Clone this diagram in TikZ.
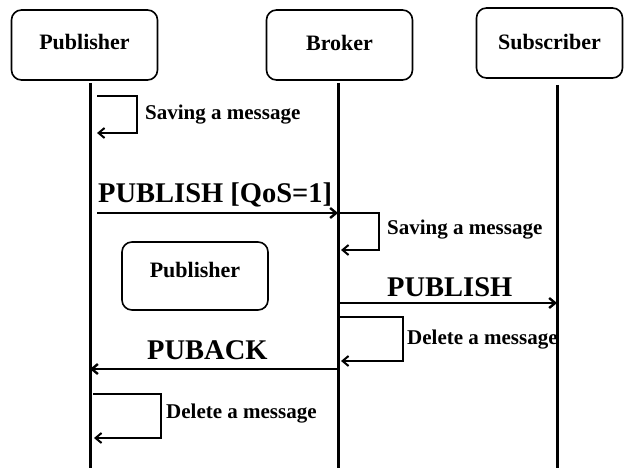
\documentclass[tikz,border=0pt]{standalone}
\usepackage{fontspec}
\setmainfont{Liberation Serif}
\usetikzlibrary{arrows.meta,positioning}

\begin{document}
\begin{tikzpicture}[
x=1pt, y=-1pt,
actor/.style={
	draw, line width=1.6pt,
	rounded corners=10pt,
	minimum width=146pt, minimum height=70pt,
	font=\fontsize{22}{24}\selectfont\bfseries
},
msg/.style={font=\fontsize{28.5}{30}\selectfont\bfseries, inner sep=0pt, anchor=base west},
note/.style={font=\fontsize{21}{23}\selectfont\bfseries, inner sep=0pt, anchor=west},
life/.style={line width=3pt},
call/.style={line width=2.4pt, -{Straight Barb[length=6pt,width=10pt]}},
selfcall/.style={line width=2pt, -{Straight Barb[length=6pt,width=10pt]}}
]
\useasboundingbox (0,0) rectangle (624,468);

\node[actor] (pub) at (84.5,45) {\raisebox{3pt}[\height][\depth]{Publisher}};
\node[actor] (bro) at (339.5,45) {\raisebox{2pt}[\height][\depth]{Broker}};
\node[actor] (sub) at (549.5,43) {\raisebox{1pt}[\height][\depth]{Subscriber}};
\node[actor, minimum height=68pt] (pub2) at (195,276) {\raisebox{6pt}[\height][\depth]{Publisher}};

% lifelines
\foreach \who/\x/\top in {pub/90/83, bro/338/83, sub/557/85}
{
	\coordinate (\who top) at (\x,\top);
	\coordinate (\who bot) at (\x,468);
	\draw[life] (\who top) -- (\who bot);
}

% messages
\coordinate (m1a) at (97,213);
\coordinate (m1b) at (338,213);
\coordinate (m2a) at (338,303);
\coordinate (m2b) at (557,303);
\coordinate (m3a) at (338,369);
\coordinate (m3b) at (90,369);
\draw[call] (m1a) -- (m1b);
\draw[call] (m2a) -- (m2b);
\draw[call] (m3a) -- (m3b);
\node[msg] (l1) at (98,203) {PUBLISH [QoS=1]};
\node[msg] (l2) at (387,296) {PUBLISH};
\node[msg] (l3) at (147,359.5) {PUBACK};

% self calls
\coordinate (s1a) at (97,96);   \coordinate (s1b) at (97,133);
\coordinate (s2a) at (338,213); \coordinate (s2b) at (341,250);
\coordinate (s3a) at (338,317); \coordinate (s3b) at (341,361);
\coordinate (s4a) at (93,394);  \coordinate (s4b) at (94,438);
\draw[selfcall] (s1a) -- ++(40,0) |- (s1b);
\draw[selfcall] (s2a) -- ++(41,0) |- (s2b);
\draw[selfcall] (s3a) -- ++(65,0) |- (s3b);
\draw[selfcall] (s4a) -- ++(68,0) |- (s4b);
\node[note] (n1) at (145,115) {Saving a message};
\node[note] (n2) at (387,230) {Saving a message};
\node[note] (n3) at (407,340) {Delete a message};
\node[note] (n4) at (166,414) {Delete a message};
\end{tikzpicture}
\end{document}
